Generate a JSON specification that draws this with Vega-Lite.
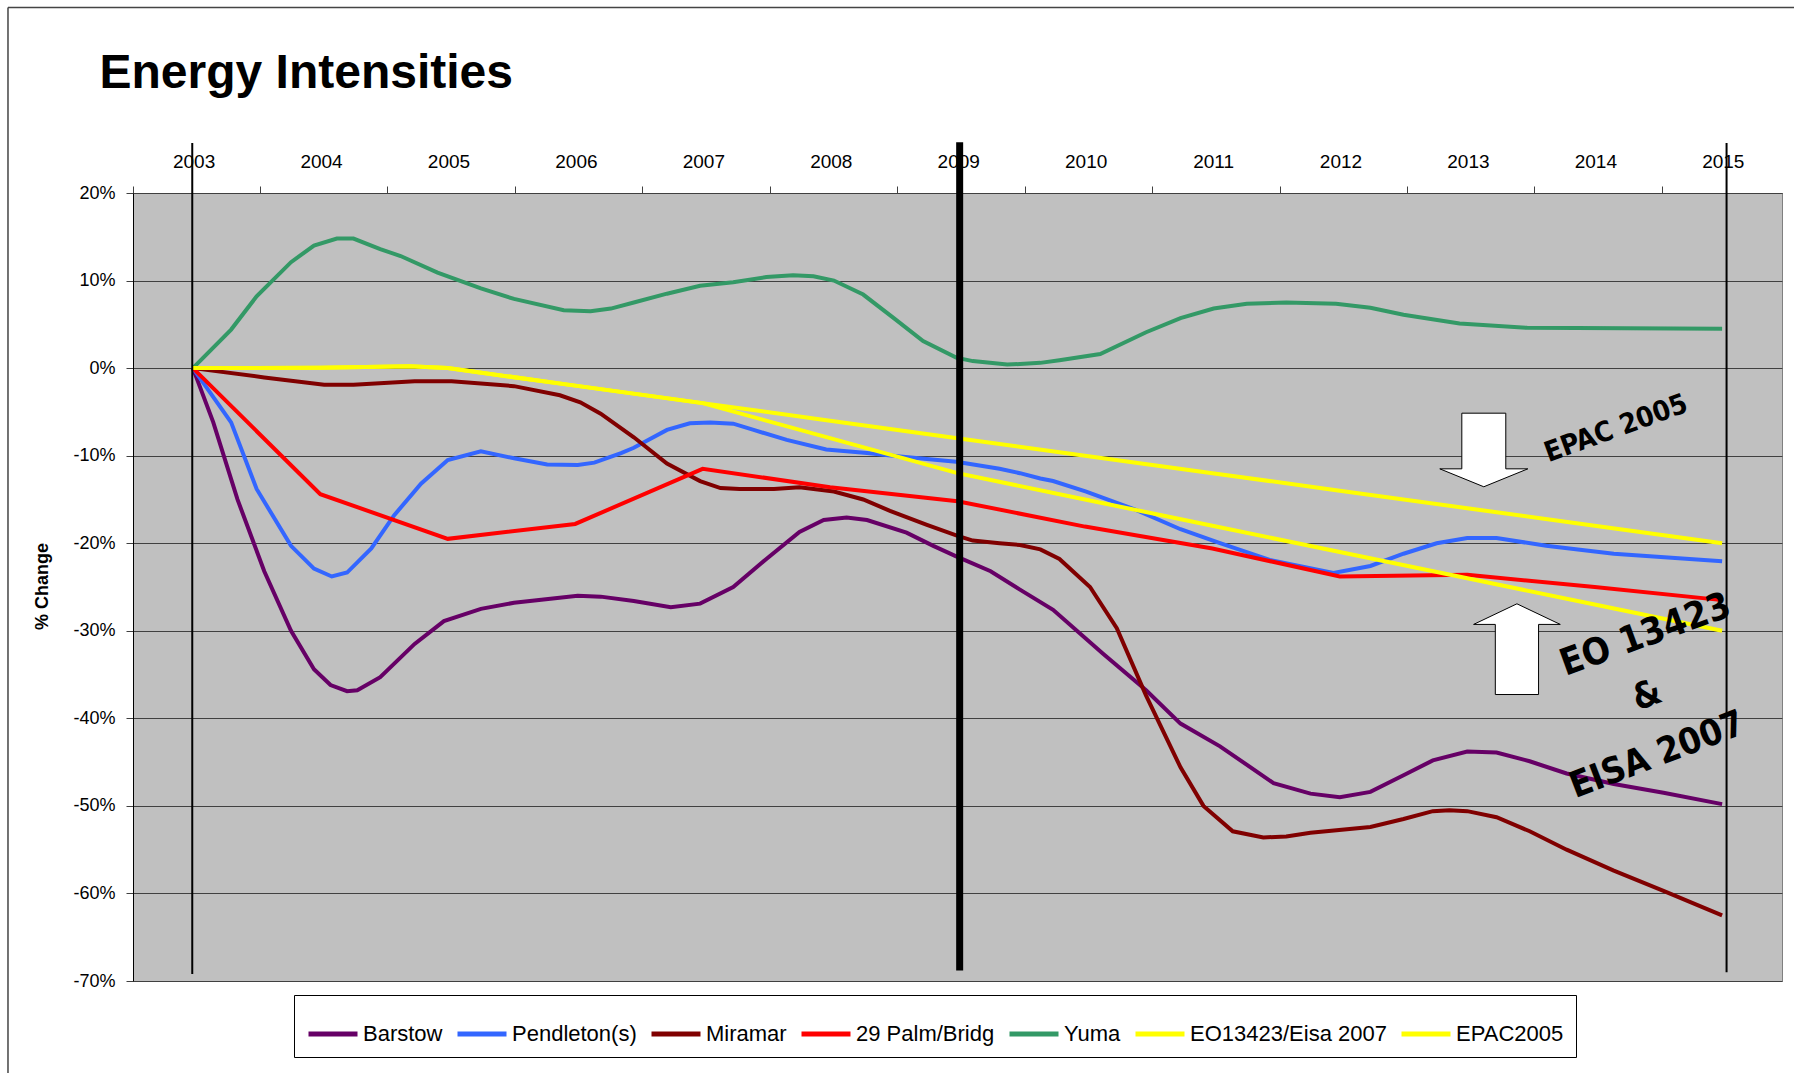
{
  "$schema": "https://vega.github.io/schema/vega-lite/v6.json",
  "width": 1649,
  "height": 788,
  "autosize": {"type": "none"},
  "padding": {"left": 133, "top": 193, "right": 12, "bottom": 92},
  "background": "white",
  "title": {
    "text": "Energy Intensities",
    "anchor": "start",
    "frame": "group",
    "dx": -33.5,
    "dy": 146.5,
    "offset": 55,
    "font": "Liberation Sans",
    "fontSize": 48,
    "fontWeight": "bold",
    "color": "black"
  },
  "config": {
    "view": {"fill": "#C0C0C0", "stroke": "#808080", "strokeWidth": 1},
    "axis": {"labelFont": "Liberation Sans", "titleFont": "Liberation Sans", "labelColor": "black", "titleColor": "black"},
    "legend": {
      "orient": "none",
      "legendX": 161,
      "legendY": 802,
      "direction": "horizontal",
      "symbolType": "stroke",
      "symbolSize": 2401,
      "symbolStrokeWidth": 5,
      "labelFont": "Liberation Sans",
      "labelFontSize": 22,
      "labelColor": "black",
      "labelOffset": 3,
      "labelLimit": 400,
      "columnPadding": 4,
      "strokeColor": "black",
      "fillColor": "white",
      "padding": 12,
      "title": null
    }
  },
  "datasets": {
    "one": [{}],
    "series": [
      {"series": "Barstow", "year": 2003.0, "v": 0},
      {"series": "Barstow", "year": 2003.16, "v": -0.062},
      {"series": "Barstow", "year": 2003.35, "v": -0.15},
      {"series": "Barstow", "year": 2003.56, "v": -0.232},
      {"series": "Barstow", "year": 2003.77, "v": -0.30},
      {"series": "Barstow", "year": 2003.95, "v": -0.344},
      {"series": "Barstow", "year": 2004.08, "v": -0.362},
      {"series": "Barstow", "year": 2004.21, "v": -0.369},
      {"series": "Barstow", "year": 2004.29, "v": -0.368},
      {"series": "Barstow", "year": 2004.47, "v": -0.353},
      {"series": "Barstow", "year": 2004.74, "v": -0.315},
      {"series": "Barstow", "year": 2004.97, "v": -0.289},
      {"series": "Barstow", "year": 2005.26, "v": -0.275},
      {"series": "Barstow", "year": 2005.52, "v": -0.268},
      {"series": "Barstow", "year": 2006.02, "v": -0.260},
      {"series": "Barstow", "year": 2006.2, "v": -0.261},
      {"series": "Barstow", "year": 2006.46, "v": -0.266},
      {"series": "Barstow", "year": 2006.75, "v": -0.273},
      {"series": "Barstow", "year": 2006.98, "v": -0.269},
      {"series": "Barstow", "year": 2007.24, "v": -0.25},
      {"series": "Barstow", "year": 2007.5, "v": -0.218},
      {"series": "Barstow", "year": 2007.76, "v": -0.187},
      {"series": "Barstow", "year": 2007.95, "v": -0.1735},
      {"series": "Barstow", "year": 2008.13, "v": -0.1706},
      {"series": "Barstow", "year": 2008.29, "v": -0.1735},
      {"series": "Barstow", "year": 2008.6, "v": -0.188},
      {"series": "Barstow", "year": 2008.81, "v": -0.203},
      {"series": "Barstow", "year": 2008.99, "v": -0.215},
      {"series": "Barstow", "year": 2009.26, "v": -0.232},
      {"series": "Barstow", "year": 2009.49, "v": -0.253},
      {"series": "Barstow", "year": 2009.75, "v": -0.276},
      {"series": "Barstow", "year": 2010.14, "v": -0.326},
      {"series": "Barstow", "year": 2010.48, "v": -0.368},
      {"series": "Barstow", "year": 2010.75, "v": -0.406},
      {"series": "Barstow", "year": 2011.06, "v": -0.432},
      {"series": "Barstow", "year": 2011.48, "v": -0.474},
      {"series": "Barstow", "year": 2011.77, "v": -0.486},
      {"series": "Barstow", "year": 2012.0, "v": -0.49},
      {"series": "Barstow", "year": 2012.24, "v": -0.484},
      {"series": "Barstow", "year": 2012.5, "v": -0.465},
      {"series": "Barstow", "year": 2012.73, "v": -0.448},
      {"series": "Barstow", "year": 2013.0, "v": -0.438},
      {"series": "Barstow", "year": 2013.23, "v": -0.439},
      {"series": "Barstow", "year": 2013.49, "v": -0.449},
      {"series": "Barstow", "year": 2013.78, "v": -0.463},
      {"series": "Barstow", "year": 2014.15, "v": -0.475},
      {"series": "Barstow", "year": 2014.54, "v": -0.485},
      {"series": "Barstow", "year": 2015.0, "v": -0.498},

      {"series": "Pendleton(s)", "year": 2003.0, "v": 0},
      {"series": "Pendleton(s)", "year": 2003.3, "v": -0.062},
      {"series": "Pendleton(s)", "year": 2003.5, "v": -0.138},
      {"series": "Pendleton(s)", "year": 2003.77, "v": -0.203},
      {"series": "Pendleton(s)", "year": 2003.95, "v": -0.229},
      {"series": "Pendleton(s)", "year": 2004.09, "v": -0.238},
      {"series": "Pendleton(s)", "year": 2004.21, "v": -0.2335},
      {"series": "Pendleton(s)", "year": 2004.4, "v": -0.206},
      {"series": "Pendleton(s)", "year": 2004.58, "v": -0.168},
      {"series": "Pendleton(s)", "year": 2004.79, "v": -0.132},
      {"series": "Pendleton(s)", "year": 2005.0, "v": -0.105},
      {"series": "Pendleton(s)", "year": 2005.26, "v": -0.095},
      {"series": "Pendleton(s)", "year": 2005.52, "v": -0.103},
      {"series": "Pendleton(s)", "year": 2005.78, "v": -0.110},
      {"series": "Pendleton(s)", "year": 2006.02, "v": -0.1106},
      {"series": "Pendleton(s)", "year": 2006.15, "v": -0.108},
      {"series": "Pendleton(s)", "year": 2006.36, "v": -0.097},
      {"series": "Pendleton(s)", "year": 2006.46, "v": -0.091},
      {"series": "Pendleton(s)", "year": 2006.72, "v": -0.0706},
      {"series": "Pendleton(s)", "year": 2006.9, "v": -0.063},
      {"series": "Pendleton(s)", "year": 2007.06, "v": -0.062},
      {"series": "Pendleton(s)", "year": 2007.24, "v": -0.0635},
      {"series": "Pendleton(s)", "year": 2007.4, "v": -0.0706},
      {"series": "Pendleton(s)", "year": 2007.66, "v": -0.082},
      {"series": "Pendleton(s)", "year": 2007.97, "v": -0.093},
      {"series": "Pendleton(s)", "year": 2008.29, "v": -0.097},
      {"series": "Pendleton(s)", "year": 2008.55, "v": -0.101},
      {"series": "Pendleton(s)", "year": 2008.99, "v": -0.107},
      {"series": "Pendleton(s)", "year": 2009.33, "v": -0.115},
      {"series": "Pendleton(s)", "year": 2009.49, "v": -0.120},
      {"series": "Pendleton(s)", "year": 2009.65, "v": -0.126},
      {"series": "Pendleton(s)", "year": 2009.75, "v": -0.129},
      {"series": "Pendleton(s)", "year": 2010.01, "v": -0.141},
      {"series": "Pendleton(s)", "year": 2010.4, "v": -0.162},
      {"series": "Pendleton(s)", "year": 2010.75, "v": -0.184},
      {"series": "Pendleton(s)", "year": 2011.06, "v": -0.200},
      {"series": "Pendleton(s)", "year": 2011.45, "v": -0.219},
      {"series": "Pendleton(s)", "year": 2011.95, "v": -0.234},
      {"series": "Pendleton(s)", "year": 2012.24, "v": -0.226},
      {"series": "Pendleton(s)", "year": 2012.5, "v": -0.212},
      {"series": "Pendleton(s)", "year": 2012.76, "v": -0.200},
      {"series": "Pendleton(s)", "year": 2013.0, "v": -0.194},
      {"series": "Pendleton(s)", "year": 2013.23, "v": -0.194},
      {"series": "Pendleton(s)", "year": 2013.62, "v": -0.203},
      {"series": "Pendleton(s)", "year": 2014.15, "v": -0.212},
      {"series": "Pendleton(s)", "year": 2015.0, "v": -0.2206},

      {"series": "Miramar", "year": 2003.0, "v": 0},
      {"series": "Miramar", "year": 2003.56, "v": -0.0106},
      {"series": "Miramar", "year": 2004.03, "v": -0.019},
      {"series": "Miramar", "year": 2004.26, "v": -0.019},
      {"series": "Miramar", "year": 2004.74, "v": -0.015},
      {"series": "Miramar", "year": 2005.03, "v": -0.015},
      {"series": "Miramar", "year": 2005.52, "v": -0.0206},
      {"series": "Miramar", "year": 2005.88, "v": -0.031},
      {"series": "Miramar", "year": 2006.04, "v": -0.039},
      {"series": "Miramar", "year": 2006.2, "v": -0.052},
      {"series": "Miramar", "year": 2006.46, "v": -0.079},
      {"series": "Miramar", "year": 2006.72, "v": -0.109},
      {"series": "Miramar", "year": 2006.98, "v": -0.129},
      {"series": "Miramar", "year": 2007.14, "v": -0.137},
      {"series": "Miramar", "year": 2007.29, "v": -0.138},
      {"series": "Miramar", "year": 2007.56, "v": -0.138},
      {"series": "Miramar", "year": 2007.76, "v": -0.136},
      {"series": "Miramar", "year": 2008.03, "v": -0.141},
      {"series": "Miramar", "year": 2008.26, "v": -0.150},
      {"series": "Miramar", "year": 2008.47, "v": -0.163},
      {"series": "Miramar", "year": 2008.76, "v": -0.179},
      {"series": "Miramar", "year": 2008.99, "v": -0.191},
      {"series": "Miramar", "year": 2009.12, "v": -0.197},
      {"series": "Miramar", "year": 2009.33, "v": -0.200},
      {"series": "Miramar", "year": 2009.49, "v": -0.202},
      {"series": "Miramar", "year": 2009.65, "v": -0.207},
      {"series": "Miramar", "year": 2009.8, "v": -0.218},
      {"series": "Miramar", "year": 2010.04, "v": -0.250},
      {"series": "Miramar", "year": 2010.25, "v": -0.297},
      {"series": "Miramar", "year": 2010.48, "v": -0.374},
      {"series": "Miramar", "year": 2010.75, "v": -0.456},
      {"series": "Miramar", "year": 2010.93, "v": -0.500},
      {"series": "Miramar", "year": 2011.16, "v": -0.529},
      {"series": "Miramar", "year": 2011.4, "v": -0.536},
      {"series": "Miramar", "year": 2011.58, "v": -0.535},
      {"series": "Miramar", "year": 2011.77, "v": -0.5306},
      {"series": "Miramar", "year": 2012.24, "v": -0.524},
      {"series": "Miramar", "year": 2012.5, "v": -0.515},
      {"series": "Miramar", "year": 2012.73, "v": -0.506},
      {"series": "Miramar", "year": 2012.86, "v": -0.505},
      {"series": "Miramar", "year": 2013.0, "v": -0.506},
      {"series": "Miramar", "year": 2013.23, "v": -0.513},
      {"series": "Miramar", "year": 2013.49, "v": -0.529},
      {"series": "Miramar", "year": 2013.78, "v": -0.550},
      {"series": "Miramar", "year": 2014.15, "v": -0.574},
      {"series": "Miramar", "year": 2014.54, "v": -0.597},
      {"series": "Miramar", "year": 2015.0, "v": -0.625},

      {"series": "29 Palm/Bridg", "year": 2003, "v": 0},
      {"series": "29 Palm/Bridg", "year": 2004, "v": -0.144},
      {"series": "29 Palm/Bridg", "year": 2005, "v": -0.195},
      {"series": "29 Palm/Bridg", "year": 2006, "v": -0.178},
      {"series": "29 Palm/Bridg", "year": 2007, "v": -0.115},
      {"series": "29 Palm/Bridg", "year": 2008, "v": -0.136},
      {"series": "29 Palm/Bridg", "year": 2009, "v": -0.152},
      {"series": "29 Palm/Bridg", "year": 2010, "v": -0.181},
      {"series": "29 Palm/Bridg", "year": 2011, "v": -0.206},
      {"series": "29 Palm/Bridg", "year": 2012, "v": -0.238},
      {"series": "29 Palm/Bridg", "year": 2013, "v": -0.236},
      {"series": "29 Palm/Bridg", "year": 2014, "v": -0.250},
      {"series": "29 Palm/Bridg", "year": 2015, "v": -0.265},

      {"series": "Yuma", "year": 2003.0, "v": 0},
      {"series": "Yuma", "year": 2003.3, "v": 0.044},
      {"series": "Yuma", "year": 2003.5, "v": 0.082},
      {"series": "Yuma", "year": 2003.77, "v": 0.121},
      {"series": "Yuma", "year": 2003.95, "v": 0.140},
      {"series": "Yuma", "year": 2004.13, "v": 0.148},
      {"series": "Yuma", "year": 2004.26, "v": 0.148},
      {"series": "Yuma", "year": 2004.47, "v": 0.136},
      {"series": "Yuma", "year": 2004.63, "v": 0.128},
      {"series": "Yuma", "year": 2004.92, "v": 0.109},
      {"series": "Yuma", "year": 2005.26, "v": 0.091},
      {"series": "Yuma", "year": 2005.52, "v": 0.079},
      {"series": "Yuma", "year": 2005.91, "v": 0.066},
      {"series": "Yuma", "year": 2006.12, "v": 0.065},
      {"series": "Yuma", "year": 2006.28, "v": 0.068},
      {"series": "Yuma", "year": 2006.46, "v": 0.075},
      {"series": "Yuma", "year": 2006.72, "v": 0.085},
      {"series": "Yuma", "year": 2006.98, "v": 0.094},
      {"series": "Yuma", "year": 2007.24, "v": 0.098},
      {"series": "Yuma", "year": 2007.5, "v": 0.104},
      {"series": "Yuma", "year": 2007.71, "v": 0.106},
      {"series": "Yuma", "year": 2007.87, "v": 0.105},
      {"series": "Yuma", "year": 2008.03, "v": 0.100},
      {"series": "Yuma", "year": 2008.26, "v": 0.084},
      {"series": "Yuma", "year": 2008.5, "v": 0.057},
      {"series": "Yuma", "year": 2008.73, "v": 0.031},
      {"series": "Yuma", "year": 2008.99, "v": 0.012},
      {"series": "Yuma", "year": 2009.12, "v": 0.008},
      {"series": "Yuma", "year": 2009.39, "v": 0.004},
      {"series": "Yuma", "year": 2009.65, "v": 0.006},
      {"series": "Yuma", "year": 2009.8, "v": 0.009},
      {"series": "Yuma", "year": 2010.12, "v": 0.016},
      {"series": "Yuma", "year": 2010.48, "v": 0.041},
      {"series": "Yuma", "year": 2010.75, "v": 0.057},
      {"series": "Yuma", "year": 2011.01, "v": 0.068},
      {"series": "Yuma", "year": 2011.27, "v": 0.0735},
      {"series": "Yuma", "year": 2011.58, "v": 0.075},
      {"series": "Yuma", "year": 2011.97, "v": 0.0735},
      {"series": "Yuma", "year": 2012.24, "v": 0.069},
      {"series": "Yuma", "year": 2012.5, "v": 0.061},
      {"series": "Yuma", "year": 2012.94, "v": 0.051},
      {"series": "Yuma", "year": 2013.47, "v": 0.046},
      {"series": "Yuma", "year": 2015.0, "v": 0.045},

      {"series": "EO13423/Eisa 2007", "year": 2003, "v": 0},
      {"series": "EO13423/Eisa 2007", "year": 2004, "v": 0.0005},
      {"series": "EO13423/Eisa 2007", "year": 2004.7, "v": 0.002},
      {"series": "EO13423/Eisa 2007", "year": 2005, "v": 0},
      {"series": "EO13423/Eisa 2007", "year": 2006, "v": -0.02},
      {"series": "EO13423/Eisa 2007", "year": 2007, "v": -0.04},
      {"series": "EO13423/Eisa 2007", "year": 2008, "v": -0.08},
      {"series": "EO13423/Eisa 2007", "year": 2009, "v": -0.12},
      {"series": "EO13423/Eisa 2007", "year": 2010, "v": -0.15},
      {"series": "EO13423/Eisa 2007", "year": 2011, "v": -0.18},
      {"series": "EO13423/Eisa 2007", "year": 2012, "v": -0.21},
      {"series": "EO13423/Eisa 2007", "year": 2013, "v": -0.24},
      {"series": "EO13423/Eisa 2007", "year": 2014, "v": -0.27},
      {"series": "EO13423/Eisa 2007", "year": 2015, "v": -0.30},

      {"series": "EPAC2005", "year": 2003, "v": 0},
      {"series": "EPAC2005", "year": 2004, "v": 0.0005},
      {"series": "EPAC2005", "year": 2004.7, "v": 0.002},
      {"series": "EPAC2005", "year": 2005, "v": 0},
      {"series": "EPAC2005", "year": 2006, "v": -0.02},
      {"series": "EPAC2005", "year": 2007, "v": -0.04},
      {"series": "EPAC2005", "year": 2008, "v": -0.06},
      {"series": "EPAC2005", "year": 2009, "v": -0.08},
      {"series": "EPAC2005", "year": 2010, "v": -0.10},
      {"series": "EPAC2005", "year": 2011, "v": -0.12},
      {"series": "EPAC2005", "year": 2012, "v": -0.14},
      {"series": "EPAC2005", "year": 2013, "v": -0.16},
      {"series": "EPAC2005", "year": 2014, "v": -0.18},
      {"series": "EPAC2005", "year": 2015, "v": -0.20}
    ]
  },
  "layer": [
    {
      "data": {"name": "series"},
      "mark": {"type": "line", "strokeWidth": 4, "interpolate": "linear", "clip": false},
      "encoding": {
        "x": {
          "field": "year",
          "type": "quantitative",
          "scale": {"domain": [2002.53, 2015.47], "nice": false, "zero": false},
          "axis": {
            "orient": "top",
            "title": null,
            "values": [2003, 2004, 2005, 2006, 2007, 2008, 2009, 2010, 2011, 2012, 2013, 2014, 2015],
            "format": "d",
            "tickOffset": -60.3,
            "labelOffset": 61,
            "tickSize": 7,
            "tickColor": "#404040",
            "domainColor": "#404040",
            "labelPadding": 15,
            "labelFontSize": 19,
            "labelFlush": false,
            "labelOverlap": false,
            "grid": false
          }
        },
        "y": {
          "field": "v",
          "type": "quantitative",
          "scale": {"domain": [-0.7, 0.2], "nice": false, "zero": false},
          "axis": {
            "title": "% Change",
            "titleFontSize": 18,
            "titleFontWeight": "bold",
            "titleAngle": -90,
            "titleAlign": "center",
            "titleBaseline": "middle",
            "titleX": -91,
            "titleY": 393,
            "values": [-0.7, -0.6, -0.5, -0.4, -0.3, -0.2, -0.1, 0, 0.1, 0.2],
            "labelExpr": "(datum.value < -0.0001 ? '-' : '') + format(abs(datum.value), '.0%')",
            "labelFontSize": 18,
            "labelPadding": 11,
            "tickSize": 7,
            "tickColor": "#404040",
            "domainColor": "black",
            "grid": true,
            "gridColor": "#404040",
            "gridWidth": 1
          }
        },
        "color": {
          "field": "series",
          "type": "nominal",
          "scale": {
            "domain": ["Barstow", "Pendleton(s)", "Miramar", "29 Palm/Bridg", "Yuma", "EO13423/Eisa 2007", "EPAC2005"],
            "range": ["#660066", "#3366FF", "#800000", "#FF0000", "#339966", "#FFFF00", "#FFFF00"]
          },
          "legend": {"title": null}
        }
      }
    },
    {
      "data": {"name": "one"},
      "mark": {"type": "rule", "color": "black", "strokeWidth": 2},
      "encoding": {"x": {"datum": 2002.995, "type": "quantitative"}, "y": {"datum": 0.257, "type": "quantitative"}, "y2": {"datum": -0.692}}
    },
    {
      "data": {"name": "one"},
      "mark": {"type": "rule", "color": "black", "strokeWidth": 2},
      "encoding": {"x": {"datum": 2015.035, "type": "quantitative"}, "y": {"datum": 0.257, "type": "quantitative"}, "y2": {"datum": -0.69}}
    },
    {
      "data": {"name": "one"},
      "mark": {"type": "rule", "color": "black", "strokeWidth": 7},
      "encoding": {"x": {"datum": 2009.017, "type": "quantitative"}, "y": {"datum": 0.258, "type": "quantitative"}, "y2": {"datum": -0.688}}
    },
    {
      "data": {"name": "one"},
      "mark": {"type": "rule", "color": "#444444", "strokeWidth": 1.5},
      "encoding": {"x": {"datum": 2001.549, "type": "quantitative"}, "y": {"datum": 0.412, "type": "quantitative"}, "y2": {"datum": -0.83}}
    },
    {
      "data": {"name": "one"},
      "mark": {"type": "rule", "color": "#444444", "strokeWidth": 1.5},
      "encoding": {"x": {"datum": 2001.549, "type": "quantitative"}, "x2": {"datum": 2016.2}, "y": {"datum": 0.412, "type": "quantitative"}}
    },
    {
      "data": {"name": "one"},
      "mark": {"type": "point", "shape": "M -0.478 -0.8 L 0.478 -0.8 L 0.478 0.41 L 0.957 0.41 L 0 0.8 L -0.957 0.41 L -0.478 0.41 Z", "filled": true, "fill": "white", "stroke": "black", "strokeWidth": 1, "opacity": 1, "size": 8464},
      "encoding": {"x": {"datum": 2013.13, "type": "quantitative"}, "y": {"datum": -0.0935, "type": "quantitative"}}
    },
    {
      "data": {"name": "one"},
      "mark": {"type": "point", "shape": "M 0 -0.986 L 0.942 -0.538 L 0.47 -0.538 L 0.47 0.986 L -0.47 0.986 L -0.47 -0.538 L -0.942 -0.538 Z", "filled": true, "fill": "white", "stroke": "black", "strokeWidth": 1, "opacity": 1, "size": 8464},
      "encoding": {"x": {"datum": 2013.39, "type": "quantitative"}, "y": {"datum": -0.321, "type": "quantitative"}}
    },
    {
      "data": {"name": "one"},
      "mark": {"type": "text", "text": "EPAC 2005", "font": "Liberation Sans Narrow, DejaVu Sans Condensed, Liberation Sans", "fontWeight": "bold", "fontSize": 28, "angle": -20, "align": "center", "baseline": "middle", "color": "black"},
      "encoding": {"x": {"datum": 2014.17, "type": "quantitative"}, "y": {"datum": -0.0696, "type": "quantitative"}}
    },
    {
      "data": {"name": "one"},
      "mark": {"type": "text", "text": "EO 13423", "font": "Liberation Sans Narrow, DejaVu Sans Condensed, Liberation Sans", "fontWeight": "bold", "fontSize": 37, "angle": -20, "align": "center", "baseline": "middle", "color": "black"},
      "encoding": {"x": {"datum": 2014.4, "type": "quantitative"}, "y": {"datum": -0.305, "type": "quantitative"}}
    },
    {
      "data": {"name": "one"},
      "mark": {"type": "text", "text": "&", "font": "Liberation Sans Narrow, DejaVu Sans Condensed, Liberation Sans", "fontWeight": "bold", "fontSize": 36, "angle": -20, "align": "center", "baseline": "middle", "color": "black"},
      "encoding": {"x": {"datum": 2014.41, "type": "quantitative"}, "y": {"datum": -0.374, "type": "quantitative"}}
    },
    {
      "data": {"name": "one"},
      "mark": {"type": "text", "text": "EISA 2007", "font": "Liberation Sans Narrow, DejaVu Sans Condensed, Liberation Sans", "fontWeight": "bold", "fontSize": 36, "angle": -21, "align": "center", "baseline": "middle", "color": "black"},
      "encoding": {"x": {"datum": 2014.49, "type": "quantitative"}, "y": {"datum": -0.442, "type": "quantitative"}}
    }
  ]
}
